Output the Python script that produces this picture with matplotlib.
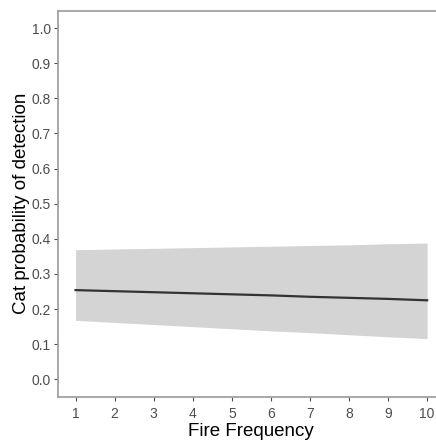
import matplotlib
matplotlib.use("Agg")
import matplotlib.pyplot as plt

fire_freq = [1, 2, 3, 4, 5, 6, 7, 8, 9, 10]
prob = [0.254, 0.251, 0.248, 0.245, 0.242, 0.239, 0.235, 0.232, 0.229, 0.225]
upper = [0.369, 0.371, 0.373, 0.375, 0.377, 0.379, 0.381, 0.383, 0.386, 0.388]
lower = [0.168, 0.162, 0.156, 0.150, 0.144, 0.138, 0.133, 0.127, 0.121, 0.116]
yticks = [0.0, 0.1, 0.2, 0.3, 0.4, 0.5, 0.6, 0.7, 0.8, 0.9, 1.0]

plt.rcParams['font.family'] = ['Liberation Sans', 'DejaVu Sans']

fig = plt.figure(figsize=(4.36, 4.40), dpi=100)
ax = fig.add_axes([0.133, 0.098, 1.02 - 0.133, 0.976 - 0.098])
ax.fill_between(fire_freq, lower, upper, color='#d4d4d4', linewidth=0)
ax.plot(fire_freq, prob, color='#333333', linewidth=1.6)

ax.set_xlim(0.55, 10.45)
ax.set_ylim(-0.05, 1.05)
ax.set_xticks(fire_freq)
ax.set_yticks(yticks)
ax.set_yticklabels([f"{v:.1f}" for v in yticks])
for s in ['left', 'bottom', 'top', 'right']:
    ax.spines[s].set_color('#9a9a9a')
    ax.spines[s].set_linewidth(1.2)
ax.tick_params(axis='both', colors='#4d4d4d', labelsize=10, length=3, width=0.8)
ax.tick_params(axis='x', pad=4)
ax.tick_params(axis='y', pad=2)
ax.set_xlabel('Fire Frequency', fontsize=13.5, color='black', labelpad=1.5)
ax.set_ylabel('Cat probability of detection', fontsize=13.5, color='black', labelpad=1)

fig.savefig('out.png', dpi=100)
